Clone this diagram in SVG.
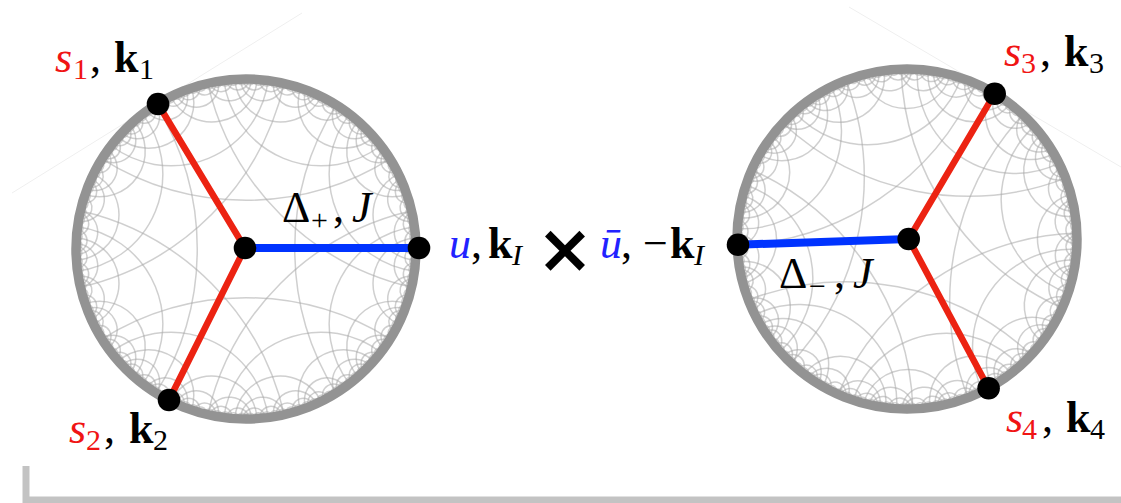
<svg xmlns="http://www.w3.org/2000/svg" width="1121" height="503" viewBox="0 0 1121 503">
<style>
.geo{fill:none;stroke:#a8a8a8;stroke-opacity:0.55;stroke-width:1.5}
.ring{fill:none;stroke:#939393;stroke-width:9.5}
.red{stroke:#ec2312;stroke-width:6.5;stroke-linecap:round}
.blue{stroke:#0033ff;stroke-width:8}
.dot{fill:#000}
.lbl{font-family:"Liberation Serif","DejaVu Serif",serif;font-size:44px;fill:#000}
.it{font-style:italic}
.bf{font-weight:bold}
.sub{font-size:30px}
.r{fill:#f01414}
.b{fill:#2222ff}
.faint{stroke:#efefef;stroke-width:1;fill:none}
</style>
<defs>
<path id="a1" class="geo" d="M90.08,-144.16 A272.05,272.05 0 0 0 90.08,144.16"/>
<path id="a2" class="geo" d="M147.22,-85 A98.15,98.15 0 0 0 147.22,85"/>
<path id="a3" class="geo" d="M164.21,-44 A45.55,45.55 0 0 0 164.21,44"/>
<path id="a4" class="geo" d="M168.55,-22.19 A22.38,22.38 0 0 0 168.55,22.19"/>
<path id="a5" class="geo" d="M169.64,-11.12 A11.14,11.14 0 0 0 169.64,11.12"/>
<path id="a6" class="geo" d="M169.91,-5.64 A5.64,5.64 0 0 0 169.91,5.64"/>
<g id="g3"><use href="#a3"/><use href="#a3" transform="rotate(22.5)"/></g>
<g id="g4a"><use href="#a4"/><use href="#a4" transform="rotate(11.25)"/></g>
<g id="g4b"><use href="#g4a"/><use href="#g4a" transform="rotate(22.5)"/></g>
<g id="g5a"><use href="#a5"/><use href="#a5" transform="rotate(5.625)"/></g>
<g id="g5b"><use href="#g5a"/><use href="#g5a" transform="rotate(11.25)"/></g>
<g id="g5c"><use href="#g5b"/><use href="#g5b" transform="rotate(22.5)"/></g>
<g id="g6a"><use href="#a6"/><use href="#a6" transform="rotate(2.8125)"/></g>
<g id="g6b"><use href="#g6a"/><use href="#g6a" transform="rotate(5.625)"/></g>
<g id="g6c"><use href="#g6b"/><use href="#g6b" transform="rotate(11.25)"/></g>
<g id="g6d"><use href="#g6c"/><use href="#g6c" transform="rotate(22.5)"/></g>
<g id="sector">
<use href="#a1"/>
<use href="#a2" transform="rotate(22.5)"/>
<use href="#g3" transform="rotate(11.25)"/>
<use href="#g4b" transform="rotate(5.625)"/>
<use href="#g5c" transform="rotate(2.8125)"/>
<use href="#g6d" transform="rotate(1.40625)"/>
</g>
<g id="s2"><use href="#sector"/><use href="#sector" transform="rotate(45)"/></g>
<g id="s4"><use href="#s2"/><use href="#s2" transform="rotate(90)"/></g>
<g id="tiling"><use href="#s4"/><use href="#s4" transform="rotate(180)"/></g>
</defs>
<rect width="1121" height="503" fill="#fff"/>
<g id="background">
<line class="faint" x1="12" y1="193" x2="302" y2="13"/>
<line class="faint" x1="849" y1="7" x2="1121" y2="167"/>
<polyline points="26,466 26,500 1121,500" fill="none" stroke="#c3c3c3" stroke-width="7"/>
</g>
<g id="disk-left">
<use href="#tiling" transform="translate(246,249) rotate(0)"/>
<circle class="ring" cx="246" cy="249" r="170"/>
</g>
<g id="disk-right">
<use href="#tiling" transform="translate(907,239) rotate(11)"/>
<circle class="ring" cx="907" cy="239" r="170"/>
</g>
<g id="connectors">
<line class="red" x1="245" y1="248" x2="158" y2="104"/>
<line class="red" x1="245" y1="248" x2="169" y2="400"/>
<line class="blue" x1="245" y1="248" x2="419" y2="248"/>
<line class="blue" x1="738" y1="244.7" x2="908.7" y2="239"/>
<line class="red" x1="908.7" y1="239" x2="994.7" y2="93.7"/>
<line class="red" x1="908.7" y1="239" x2="988.6" y2="388.3"/>
</g>
<g id="node-vertex-plus"><circle class="dot" cx="245" cy="248" r="11.3"/>
<text class="lbl"><tspan x="282" y="222">Δ</tspan><tspan class="sub" x="311" y="230">+</tspan><tspan x="333" y="222">,</tspan><tspan class="it" x="352" y="222">J</tspan></text></g>
<g id="node-s1"><circle class="dot" cx="158" cy="104" r="11.3"/>
<text class="lbl"><tspan class="it r" x="55" y="72">s</tspan><tspan class="sub r" x="73" y="79">1</tspan><tspan x="90" y="72">,</tspan><tspan class="bf" x="114" y="72">k</tspan><tspan class="sub" x="139" y="79">1</tspan></text></g>
<g id="node-s2"><circle class="dot" cx="169" cy="400" r="11.3"/>
<text class="lbl"><tspan class="it r" x="69" y="443">s</tspan><tspan class="sub r" x="86" y="450">2</tspan><tspan x="104" y="443">,</tspan><tspan class="bf" x="129" y="443">k</tspan><tspan class="sub" x="153" y="450">2</tspan></text></g>
<g id="node-u"><circle class="dot" cx="419" cy="248" r="11.3"/>
<text class="lbl"><tspan class="it b" x="449" y="258">u</tspan><tspan x="471" y="258">,</tspan><tspan class="bf" x="488" y="258">k</tspan><tspan class="sub it" x="512" y="265">I</tspan></text></g>
<g id="times"><text x="565" y="272" text-anchor="middle" font-family="DejaVu Sans" font-weight="bold" font-size="68" fill="#000">×</text></g>
<g id="node-ubar"><circle class="dot" cx="738" cy="244.7" r="11.3"/>
<text class="lbl"><tspan class="it b" x="600" y="258">ū</tspan><tspan x="621" y="258">,</tspan><tspan x="643" y="258">−</tspan><tspan class="bf" x="670" y="258">k</tspan><tspan class="sub it" x="694" y="265">I</tspan></text></g>
<g id="node-vertex-minus"><circle class="dot" cx="908.7" cy="239" r="11.3"/>
<text class="lbl"><tspan x="779" y="288">Δ</tspan><tspan class="sub" x="809" y="296">−</tspan><tspan x="834" y="288">,</tspan><tspan class="it" x="853" y="288">J</tspan></text></g>
<g id="node-s3"><circle class="dot" cx="994.7" cy="93.7" r="11.3"/>
<text class="lbl"><tspan class="it r" x="1004" y="66">s</tspan><tspan class="sub r" x="1021" y="73">3</tspan><tspan x="1040" y="66">,</tspan><tspan class="bf" x="1064" y="66">k</tspan><tspan class="sub" x="1089" y="73">3</tspan></text></g>
<g id="node-s4"><circle class="dot" cx="988.6" cy="388.3" r="11.3"/>
<text class="lbl"><tspan class="it r" x="1006" y="432">s</tspan><tspan class="sub r" x="1022" y="439">4</tspan><tspan x="1042" y="432">,</tspan><tspan class="bf" x="1066" y="432">k</tspan><tspan class="sub" x="1090" y="439">4</tspan></text></g>
</svg>
